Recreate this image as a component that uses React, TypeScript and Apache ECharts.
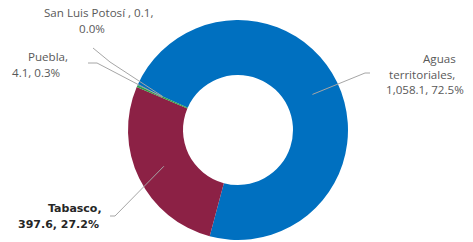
import React, { useEffect, useRef } from "react";
import * as echarts from "echarts";

const categories = ["Aguas territoriales", "Tabasco", "Puebla", "San Luis Potosí "];
const values = [1058.1, 397.6, 4.1, 0.1];
const percents = ["72.5%", "27.2%", "0.3%", "0.0%"];
const valueLabels = ["1,058.1", "397.6", "4.1", "0.1"];
const colors = ["#0070C0", "#8C2145", "#2E9E48", "#7F7F7F"];

const CX = 238;
const CY = 130;
const R_IN = 55;
const R_OUT = 110;
const START = 156;

// label placement: left x, top y, rich text
const labelPlace = [
  { x: 386, y: 51, text: "{p1|Aguas}\n{p2|territoriales,}\n{n|1,058.1, 72.5%}", bend: [365, 73], end: [370, 73] },
  { x: 18, y: 200, text: "{b1|Tabasco,}\n{b|397.6, 27.2%}", bend: [115, 216], end: [110, 216] },
  { x: 12, y: 49, text: "{p3|Puebla,}\n{n|4.1, 0.3%}", bend: [97, 63], end: [88, 63] },
  { x: 44, y: 5, text: "{n|San Luis Potosí , 0.1,}\n{p4|0.0%}", bend: [110, 62], end: [93, 48] },
];

export default function App() {
  const ref = useRef<HTMLDivElement>(null);
  useEffect(() => {
    if (!ref.current) return;
    const chart = echarts.init(ref.current, null, { renderer: "svg" });
    const total = values.reduce((a, b) => a + b, 0);
    const mids: number[][] = [];
    let cum = 0;
    values.forEach((v) => {
      const ang = ((START - ((cum + v / 2) / total) * 360) * Math.PI) / 180;
      const r = (R_IN + R_OUT) / 2;
      mids.push([CX + r * Math.cos(ang), CY - r * Math.sin(ang)]);
      cum += v;
    });
    const font = "'Open Sans', sans-serif";
    const base = { fontFamily: font, fontSize: 11.6, color: "#595959", lineHeight: 15.5 };
    const bold = {
      fontFamily: "'DejaVu Sans', sans-serif",
      fontSize: 11,
      fontWeight: "bold",
      color: "#262626",
      lineHeight: 16,
    };
    const data = categories.map((name, i) => ({ name, value: values[i], itemStyle: { color: colors[i] } }));
    chart.setOption({
      animation: false,
      series: [
        {
          type: "pie",
          z: 1,
          center: [CX, CY],
          radius: [R_IN, R_OUT],
          startAngle: START,
          clockwise: true,
          silent: true,
          data,
          label: { show: false },
          labelLine: { show: false },
        },
        {
          type: "pie",
          z: 5,
          center: [CX, CY],
          radius: [R_IN, R_OUT],
          startAngle: START,
          clockwise: true,
          silent: true,
          avoidLabelOverlap: false,
          data: data.map((d) => ({ ...d, itemStyle: { color: "rgba(0,0,0,0)" } })),
          label: {
            show: true,
            position: "outside",
            formatter: (p: any) => labelPlace[p.dataIndex].text,
            align: "left",
            ...base,
            rich: {
              p1: { ...base, padding: [0, 0, 0, 37] },
              p2: { ...base, padding: [0, 0, 0, 3] },
              p3: { ...base, padding: [0, 0, 0, 16] },
              p4: { ...base, padding: [0, 0, 0, 35] },
              n: { ...base },
              b1: { ...bold, padding: [0, 0, 0, 30] },
              b: { ...bold },
            },
          },
          labelLine: {
            show: true,
            length: 10,
            length2: 10,
            lineStyle: { color: "#A6A6A6", width: 1 },
          },
          labelLayout: (params: any) => {
            const i = params.dataIndex;
            const lp = labelPlace[i];
            return {
              x: lp.x,
              y: lp.y,
              align: "left",
              verticalAlign: "top",
              labelLinePoints: [mids[i], lp.bend, lp.end],
            };
          },
        },
      ],
    });
    return () => chart.dispose();
  }, []);
  return (
    <div
      ref={ref}
      style={{ position: "fixed", left: 0, top: 0, width: 473, height: 242, background: "#fff" }}
    />
  );
}
